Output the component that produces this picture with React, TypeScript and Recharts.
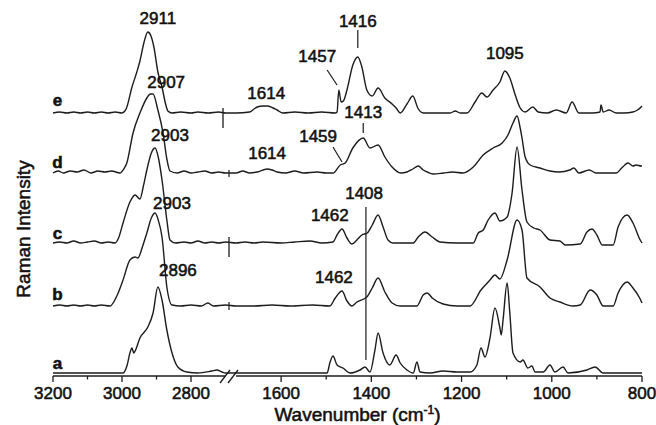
import { LineChart, Line, XAxis, YAxis, ReferenceLine, ReferenceDot } from 'recharts'

// x-axis is broken: 3200-2700 on the left, 1700-800 on the right
const MAJOR_TICKS = [3200, 3000, 2800, 1600, 1400, 1200, 1000, 800]
const MINOR_TICKS = [3100, 2900, 1500, 1300, 1100, 900]

// [wavenumber, intensity above the spectrum's own baseline]
const SPEC_A = [
  [3200, 0], [3100, 0], [3030, 0], [2997, 0], [2985, 8], [2977, 20], [2971, 25], [2966, 20], [2962, 22], [2948, 35],
  [2925, 46], [2910, 60], [2896, 86], [2884, 73], [2870, 43], [2855, 20], [2838, 6], [2812, 1], [2780, 0], [2740, 2],
  [2725, 3], [2710, 1], [2700, 0],
  [1700, 0], [1600, 0], [1520, 0], [1498, 0], [1492, 10], [1485, 17], [1476, 8], [1463, 5], [1447, 0], [1425, 3],
  [1414, 6], [1403, 1], [1392, 23], [1385, 40], [1374, 20], [1359, 8], [1345, 18], [1336, 10], [1321, 3], [1307, 0],
  [1299, 11], [1292, 1], [1270, 0], [1241, 2], [1210, 1], [1181, 1], [1166, 8], [1157, 25], [1148, 16], [1137, 35],
  [1126, 65], [1115, 45], [1112, 38], [1108, 53], [1099, 90], [1093, 60], [1086, 20], [1070, 11], [1064, 13], [1053, 5],
  [1044, 7], [1037, 1], [1019, 1], [1004, 8], [993, 1], [975, 6], [964, 0], [922, 3], [904, 6], [886, 0], [800, 0],
]

const SPEC_B = [
  [3200, 0], [3180, 1], [3160, 0], [3140, 1], [3120, 0], [3100, 1], [3080, 0], [3060, 1], [3035, 0], [3015, 10],
  [2997, 26], [2977, 46], [2962, 49], [2954, 48], [2940, 60], [2928, 73], [2915, 88], [2904, 93], [2895, 86], [2884, 69],
  [2870, 19], [2855, 1], [2830, 0], [2800, 1], [2770, 0], [2751, 3], [2735, 0], [2700, 1],
  [1700, 0], [1660, 0], [1620, 1], [1580, 0], [1530, 1], [1492, 0], [1480, 8], [1465, 15], [1454, 5], [1443, 0],
  [1432, 4], [1410, 9], [1398, 18], [1385, 28], [1370, 14], [1354, 3], [1336, 0], [1299, 0], [1285, 11], [1276, 13],
  [1265, 8], [1241, 2], [1210, 0], [1181, 0], [1157, 16], [1137, 26], [1126, 31], [1115, 27], [1099, 46], [1077, 86],
  [1066, 76], [1055, 28], [1026, 19], [1004, 8], [982, 4], [953, 0], [937, 1], [915, 16], [900, 11], [886, 0],
  [864, 0], [853, 13], [833, 24], [820, 18], [804, 7], [800, 3],
]

const SPEC_C = [
  [3200, 0], [3180, 1], [3160, 0], [3140, 2], [3120, 0], [3100, 1], [3080, 2], [3060, 0], [3040, 1], [3020, 0],
  [3010, 5], [2997, 20], [2977, 41], [2962, 48], [2948, 44], [2938, 57], [2928, 73], [2915, 90], [2904, 95], [2895, 86],
  [2884, 63], [2870, 23], [2861, 3], [2845, 0], [2820, 1], [2800, 0], [2780, 2], [2760, 0], [2740, 1], [2720, 0], [2700, 1],
  [1700, 0], [1680, 1], [1660, 0], [1640, 1], [1600, 0], [1570, 1], [1536, 2], [1510, 0], [1485, 1], [1476, 8],
  [1465, 14], [1454, 5], [1443, -1], [1432, 3], [1421, 8], [1409, 10], [1398, 18], [1385, 28], [1374, 16], [1363, 3],
  [1352, 0], [1307, 0], [1296, 6], [1281, 11], [1265, 6], [1248, 1], [1210, 0], [1174, 0], [1163, 10], [1152, 13],
  [1141, 23], [1126, 30], [1115, 22], [1099, 26], [1088, 50], [1077, 96], [1066, 53], [1055, 21], [1040, 15], [1026, 13],
  [1004, 3], [982, 2], [970, -2], [937, -1], [922, 11], [911, 14], [900, 8], [888, -2], [864, -2], [853, 16],
  [833, 28], [820, 20], [804, 3], [800, 0],
]

const SPEC_D = [
  [3200, 0], [3185, 2], [3170, 0], [3150, 2], [3130, 1], [3110, 3], [3090, 0], [3070, 2], [3050, 1], [3030, 2],
  [3006, 0], [2995, 4], [2986, 10], [2968, 40], [2948, 60], [2928, 75], [2918, 79], [2910, 79], [2896, 63], [2881, 40],
  [2870, 14], [2861, 2], [2840, 0], [2820, 2], [2800, 0], [2780, 1], [2760, 2], [2740, 0], [2720, 1], [2700, 0],
  [1700, 0], [1685, 2], [1670, 0], [1653, 1], [1631, 4], [1620, 3], [1609, 1], [1590, 0], [1570, 2], [1550, 0],
  [1520, 1], [1500, 0], [1485, 0], [1469, 8], [1458, 10], [1441, 25], [1418, 35], [1403, 25], [1385, 28], [1370, 16],
  [1354, 6], [1335, 0], [1321, 1], [1308, 4], [1296, 7], [1285, 3], [1276, 1], [1263, -1], [1240, 0], [1220, 1],
  [1197, 0], [1174, 6], [1152, 18], [1130, 25], [1110, 30], [1097, 38], [1086, 50], [1077, 57], [1070, 45], [1066, 35],
  [1059, 16], [1048, 8], [1026, 5], [1004, 2], [984, 1], [960, 3], [951, 5], [940, 0], [917, 3], [902, 0],
  [880, 0], [857, 0], [845, 5], [831, 10], [820, 7], [813, 8], [802, 7], [800, 7],
]

const SPEC_E = [
  [3200, 0], [3180, 1], [3160, 0], [3140, 1], [3120, 0], [3100, 1], [3080, 0], [3060, 1], [3040, 0], [3020, 1],
  [3000, 0], [2988, 4], [2971, 26], [2957, 41], [2948, 52], [2936, 71], [2925, 81], [2916, 77], [2907, 65], [2896, 41],
  [2884, 26], [2875, 11], [2867, 2], [2855, 0], [2830, 1], [2800, 0], [2780, 1], [2750, 0], [2720, 1], [2700, 0],
  [1700, 0], [1670, 1], [1660, 4], [1653, 6], [1640, 7], [1631, 7], [1618, 5], [1609, 3], [1596, 0], [1570, 1],
  [1540, 0], [1510, 1], [1480, 0], [1476, 1], [1472, 23], [1467, 11], [1462, 12], [1454, 23], [1441, 48], [1430, 56],
  [1421, 46], [1410, 23], [1398, 17], [1385, 25], [1370, 15], [1354, 9], [1345, 5], [1336, 0], [1321, 9], [1308, 17],
  [1297, 5], [1285, 0], [1250, 0], [1225, 0], [1214, 2], [1203, 0], [1188, 0], [1170, 11], [1155, 20], [1144, 16],
  [1130, 23], [1115, 31], [1104, 42], [1093, 35], [1081, 18], [1070, 5], [1059, 1], [1042, 6], [1030, 1], [1010, 0],
  [990, 3], [968, 0], [955, 11], [940, 0], [910, 0], [893, 1], [891, 8], [886, 1], [873, 3], [857, 0],
  [840, 0], [820, 1], [810, 3], [802, 6], [800, 7],
]

const SERIES_NAMES = ['a', 'b', 'c', 'd', 'e']
const SERIES_SPECTRA = [SPEC_A, SPEC_B, SPEC_C, SPEC_D, SPEC_E]
const SERIES_OFFSETS = [3, 70, 133, 203, 263]

// peak annotations: [text, wavenumber, height]
const PEAK_LABELS = [
  ['2911', 2896, 358], ['2907', 2872, 294], ['2903', 2861, 241], ['2903', 2855, 173], ['2896', 2838, 106],
  ['1614', 1633, 283], ['1614', 1631, 223], ['1457', 1520, 320], ['1416', 1430, 355], ['1095', 1104, 323],
  ['1459', 1518, 240], ['1413', 1418, 264], ['1408', 1416, 183], ['1462', 1492, 161], ['1462', 1483, 99],
]
const SERIES_LABEL_POS = [13, 82, 143, 214, 276]

// leader lines: [w1, y1, w2, y2]
const LEADERS = [
  [1430, 346, 1430, 328], [1418, 253, 1418, 243], [1498, 306, 1476, 291], [1485, 229, 1465, 214], [1412, 16, 1412, 169],
]

const LEFT_LEN = 172.5
const RIGHT_START = 183
const RIGHT_LEN = 406
const toAxis = (w: number) => (w >= 2700 ? ((3200 - w) / 500) * LEFT_LEN : RIGHT_START + ((1700 - w) / 900) * RIGHT_LEN)

const TICK_LABELS = new Map<number, string>()
MAJOR_TICKS.forEach((t) => TICK_LABELS.set(Math.round(toAxis(t) * 100), String(t)))
const ALL_TICKS = [...MAJOR_TICKS, ...MINOR_TICKS].map(toAxis).sort((p, q) => p - q)

const INK = '#1c1c1c'
const FONT = '"Liberation Sans", Arial, sans-serif'
// scanned figure: text reads a little heavier than plain regular
const heavy = { fill: '#111', stroke: '#111', strokeWidth: 0.55, fontFamily: FONT }

function AxisTick({ x, y, payload }: any) {
  const label = TICK_LABELS.get(Math.round(payload.value * 100))
  const top = y - 8
  return (
    <g>
      <line x1={x} x2={x} y1={top} y2={top + (label ? 6 : 3.5)} stroke={INK} strokeWidth={1.3} />
      {label && (
        <text x={x} y={top + 23} textAnchor="middle" fontSize={17} {...heavy}>
          {label}
        </text>
      )}
    </g>
  )
}

const textShape = (text: string, size: number, weight: string) => (p: any) => (
  <text x={p.cx} y={p.cy} textAnchor="middle" dominantBaseline="central" fontSize={size} fontWeight={weight} {...heavy}>
    {text}
  </text>
)

export default function App() {
  const rows = SERIES_SPECTRA.map((spec, i) => spec.map(([w, v]) => ({ pos: toAxis(w), y: v + SERIES_OFFSETS[i] })))

  return (
    <div style={{ position: 'absolute', left: 0, top: 0, width: 656, height: 425, background: '#fff' }}>
      <LineChart width={656} height={425} margin={{ top: 16, right: 14, bottom: 19, left: 0 }}>
        <XAxis
          type="number"
          dataKey="pos"
          domain={[0, RIGHT_START + RIGHT_LEN]}
          ticks={ALL_TICKS}
          interval={0}
          height={30}
          axisLine={false}
          tickLine={false}
          tick={<AxisTick />}
          label={{
            content: ({ viewBox }: any) => (
              <text x={viewBox.x + viewBox.width / 2 + 10} y={viewBox.y + 45} textAnchor="middle" fontSize={19} {...heavy}>
                Wavenumber (cm<tspan dy={-7} fontSize={12}>-1</tspan><tspan dy={7}>)</tspan>
              </text>
            ),
          }}
        />
        <YAxis
          type="number"
          domain={[0, 360]}
          width={53}
          tick={false}
          axisLine={false}
          tickLine={false}
          label={{
            content: ({ viewBox }: any) => {
              const cx = viewBox.x + 23
              const cy = viewBox.y + 213
              return (
                <text x={cx} y={cy} transform={`rotate(-90 ${cx} ${cy})`} textAnchor="middle" dominantBaseline="central" fontSize={19} {...heavy}>
                  Raman Intensity
                </text>
              )
            },
          }}
        />

        {/* broken axis line with break marks */}
        <ReferenceLine segment={[{ x: 0, y: 0 }, { x: LEFT_LEN, y: 0 }]} stroke={INK} strokeWidth={1.4} ifOverflow="visible" />
        <ReferenceLine segment={[{ x: RIGHT_START, y: 0 }, { x: RIGHT_START + RIGHT_LEN, y: 0 }]} stroke={INK} strokeWidth={1.4} ifOverflow="visible" />
        <ReferenceLine segment={[{ x: 167, y: -7 }, { x: 177, y: 6 }]} stroke={INK} strokeWidth={1.3} ifOverflow="visible" />
        <ReferenceLine segment={[{ x: 175, y: -7 }, { x: 185, y: 6 }]} stroke={INK} strokeWidth={1.3} ifOverflow="visible" />

        {/* break markers on the spectra */}
        <ReferenceLine segment={[{ x: 170, y: 248 }, { x: 170, y: 268 }]} stroke={INK} strokeWidth={1.3} />
        <ReferenceLine segment={[{ x: 176, y: 199 }, { x: 176, y: 206 }]} stroke={INK} strokeWidth={1.2} />
        <ReferenceLine segment={[{ x: 176, y: 119 }, { x: 176, y: 139 }]} stroke={INK} strokeWidth={1.3} />
        <ReferenceLine segment={[{ x: 176, y: 66 }, { x: 176, y: 74 }]} stroke={INK} strokeWidth={1.2} />

        {LEADERS.map(([w1, y1, w2, y2], i) => (
          <ReferenceLine key={`ld${i}`} segment={[{ x: toAxis(w1), y: y1 }, { x: toAxis(w2), y: y2 }]} stroke={INK} strokeWidth={1.2} />
        ))}

        {rows.map((data, i) => (
          <Line
            key={SERIES_NAMES[i]}
            data={data}
            dataKey="y"
            type="monotone"
            stroke={INK}
            strokeWidth={1.4}
            dot={false}
            isAnimationActive={false}
          />
        ))}

        {PEAK_LABELS.map(([text, w, y], i) => (
          <ReferenceDot key={`pk${i}`} x={toAxis(w as number)} y={y as number} r={0} ifOverflow="visible" shape={textShape(text as string, 17, 'normal')} />
        ))}
        {SERIES_NAMES.map((name, i) => (
          <ReferenceDot key={`sn${i}`} x={toAxis(3187)} y={SERIES_LABEL_POS[i]} r={0} ifOverflow="visible" shape={textShape(name, 17, 'bold')} />
        ))}
      </LineChart>
    </div>
  )
}
